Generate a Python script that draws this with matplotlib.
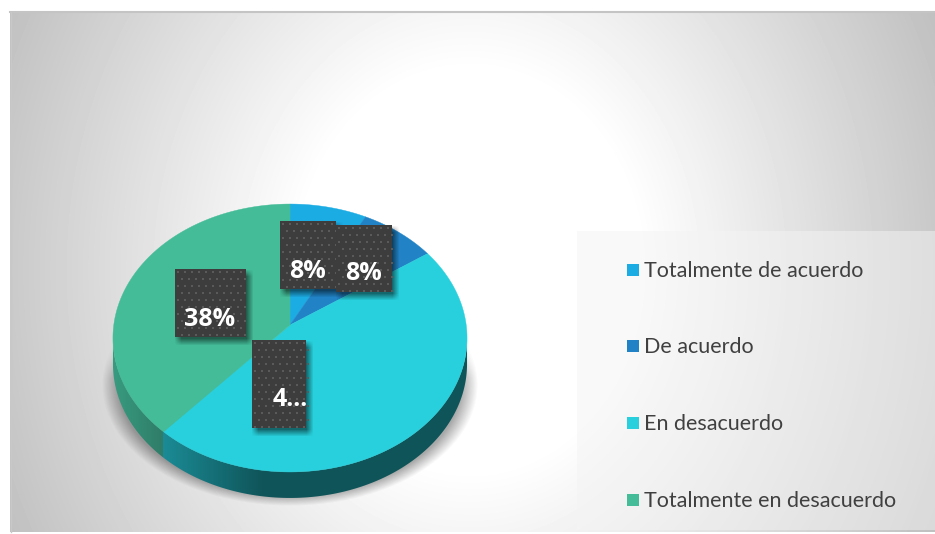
import numpy as np
import matplotlib
matplotlib.use('Agg')
import matplotlib.pyplot as plt
from matplotlib.patches import Polygon, Rectangle

# Datos
categorias = ['Totalmente de acuerdo', 'De acuerdo', 'En desacuerdo', 'Totalmente en desacuerdo']
valores = [7.7, 7.7, 46.2, 38.4]
etiquetas = ['8%', '8%', '4...', '38%']
colores = ['#1cace4', '#2183c6', '#27d0dc', '#43bc97']

W, H = 935, 534
fig = plt.figure(figsize=(W / 100, H / 100), dpi=100)
ax = fig.add_axes([0, 0, 1, 1])
ax.set_xlim(0, W)
ax.set_ylim(H, 0)
ax.axis('off')

X, Y = np.meshgrid(np.arange(W) + 0.5, np.arange(H) + 0.5)


def rampa(t):
    return np.clip(t, 0, 1)


def caja_suave(x0, x1, y0, y1, b):
    return rampa((X - x0) / b + 0.5) * rampa((x1 - X) / b + 0.5) * rampa((Y - y0) / b + 0.5) * rampa((y1 - Y) / b + 0.5)


def capa(alpha, gris=0.0, z=1):
    img = np.zeros((H, W, 4))
    img[..., :3] = gris
    img[..., 3] = alpha
    return ax.imshow(img, extent=(0, W, H, 0), zorder=z, aspect='auto', interpolation='bilinear')


# Fondo con gradiente radial
d = np.sqrt((X - 470) ** 2 + ((Y - 270) * 0.85) ** 2)
gris = np.clip(1 - np.clip(d - 170, 0, None) * 0.00072, 0, 1)
fondo = np.ones((H, W))
fondo[12:532, 10:] = gris[12:532, 10:]
ax.imshow(fondo, extent=(0, W, H, 0), cmap='gray', vmin=0, vmax=1, zorder=0, aspect='auto')
ax.plot([10, W], [11.5, 11.5], color='#c4c4c4', lw=1.5, zorder=1)
ax.plot([10.5, 10.5], [12, 532], color='#c8c8c8', lw=1, zorder=1)
ax.set_xlim(0, W)
ax.set_ylim(H, 0)

# Panel de la leyenda
ax.add_patch(Rectangle((577, 231), W - 577, 299, facecolor='#f4f4f4', alpha=0.5, edgecolor='none', zorder=1))

# Sombra bajo el grafico
rho = np.sqrt(((X - 290) / 188) ** 2 + ((Y - 385) / 121) ** 2)
sombra = 0.42 * rampa((1 - rho) / 0.09) * rampa((Y - 338) / 40)
capa(sombra, 0.2, z=2)

# Geometria de la tarta en perspectiva
cx, cy = 290, 325
ancho, alto, p = 176.2, 132.7, 0.097
prof = 26


def punto(ang):
    u, v = np.sin(ang), np.cos(ang)
    return cx + ancho * u / (1 + p * v), cy - alto * v / (1 + p * v)


# Lateral de la tarta
ang = np.linspace(0, 2 * np.pi, 721)
px, py = punto(ang)
i_der, i_izq = np.argmax(px), np.argmin(px)
arco = np.arange(i_der, i_izq + 1)
lat_x = np.r_[px[arco], px[arco][::-1]]
lat_y = np.r_[py[arco], py[arco][::-1] + prof]
lim = 2 * np.pi * np.cumsum(valores) / np.sum(valores)

# color del lateral por tramos
lado = np.zeros((H, W, 4))
azul = np.array([0x0f, 0x54, 0x59]) / 255
azul_cl = np.array([0x1b, 0x8b, 0x95]) / 255
verde = np.array([0x2f, 0x7c, 0x68]) / 255
verde_cl = np.array([0x38, 0x9b, 0x80]) / 255
xs_borde = punto(lim[2])[0]
mez = rampa((X - xs_borde) / 100)[..., None]
lado[..., :3] = azul_cl * (1 - mez) + azul * mez
izq = X < xs_borde
mez2 = rampa((xs_borde - X) / 50)[..., None]
col_v = verde * (1 - mez2) + verde_cl * mez2
lado[..., :3] = np.where(izq[..., None], col_v, lado[..., :3])
lado[..., 3] = 1
im = ax.imshow(lado, extent=(0, W, H, 0), zorder=3, aspect='auto')
im.set_clip_path(Polygon(np.c_[lat_x, lat_y], closed=True, transform=ax.transData))

# Porciones
ini = 0
for v, c in zip(valores, colores):
    fin = ini + 2 * np.pi * v / sum(valores)
    a = np.linspace(ini, fin, 200)
    x, y = punto(a)
    ax.add_patch(Polygon(np.c_[np.r_[cx, x], np.r_[cy, y]], closed=True, facecolor=c, edgecolor=c, lw=0.3, zorder=4))
    ini = fin

# Etiquetas de datos
cajas = [(280, 221, 56, 68), (336, 225, 56, 67), (252, 340, 54, 88), (175, 269, 71, 68)]
pos_txt = [(308, 271), (363, 274), (290, 399), (210, 319)]
for n in range(4):
    x0, y0, w, h = cajas[n]
    z = 5 + n * 0.1
    capa(caja_suave(x0 + 3, x0 + w + 4, y0 + 4, y0 + h + 5, 7) * 0.5, 0.0, z=z)
    ax.add_patch(Rectangle((x0, y0), w, h, facecolor='#3d3d3d', edgecolor='none', zorder=z + 0.01))
    dx = np.arange(x0 + 3, x0 + w, 7)
    dy = np.arange(y0 + 3, y0 + h, 7)
    for fila, yy in enumerate(dy):
        ax.scatter(dx + (fila % 2) * 3.5, np.full(dx.shape, yy), s=1.6, marker='s', color='#5a5a5a', linewidths=0, zorder=z + 0.02)
    ax.text(pos_txt[n][0], pos_txt[n][1], etiquetas[n], color='white', fontsize=18, fontweight='bold',
            family='Open Sans', ha='center', va='center', zorder=z + 0.03)

# Leyenda
ley_y = [270, 346, 423, 500]
for yy, c, nombre in zip(ley_y, colores, categorias):
    ax.add_patch(Rectangle((627, yy - 6), 12, 12, facecolor=c, edgecolor='none', zorder=6))
    ax.text(644, yy + 0.8, nombre, color='#404040', fontsize=15.5, family='Lato', ha='left', va='center', zorder=6)

fig.savefig('out.png', dpi=100)
